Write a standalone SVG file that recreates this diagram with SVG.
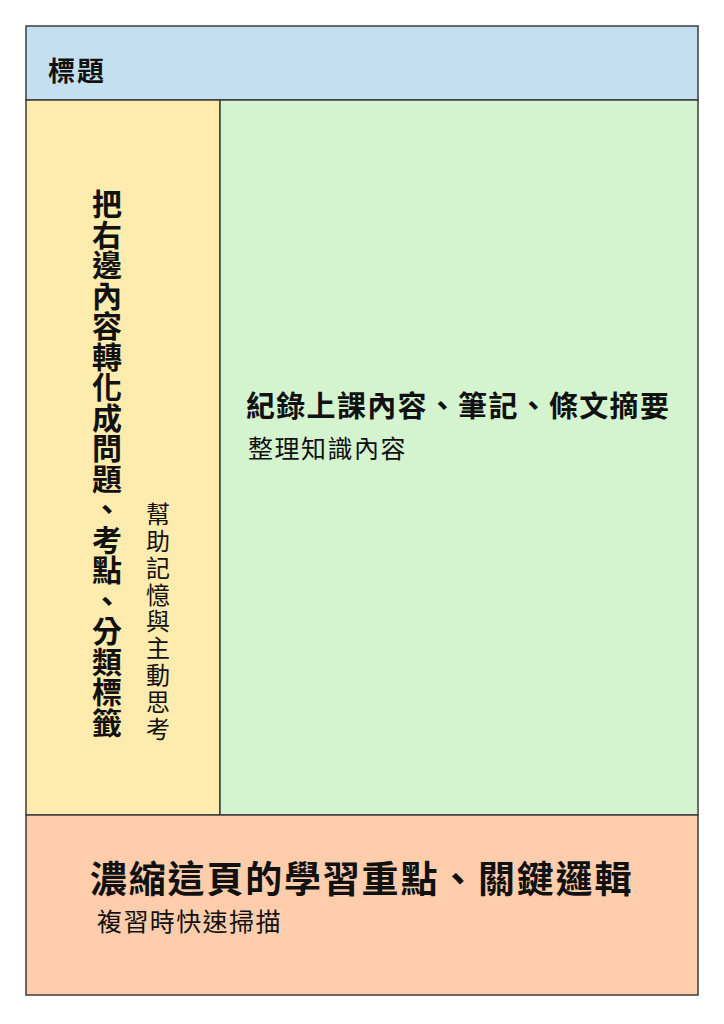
<svg xmlns="http://www.w3.org/2000/svg" width="724" height="1024" viewBox="0 0 724 1024">
<style>
.box{stroke:#3c3c3c;stroke-width:1.5}
.t{font-family:"Noto Sans CJK TC","Noto Sans CJK SC",sans-serif;fill:#111}
.b{font-weight:bold}
</style>
<rect width="724" height="1024" fill="#ffffff"/>
<g id="title">
<rect class="box" x="26" y="26" width="672" height="74" fill="#c4e0f0"/>
<text class="t b" x="48" y="81" font-size="27" letter-spacing="2">標題</text>
</g>
<g id="cue">
<rect class="box" x="26" y="100" width="194" height="715" fill="#feebae"/>
<text class="t b" x="107" y="189" font-size="30" letter-spacing="0.5" style="writing-mode:vertical-rl">把右邊內容轉化成問題、考點、分類標籤</text>
<text class="t" x="158" y="502" font-size="24" letter-spacing="2.8" style="writing-mode:vertical-rl">幫助記憶與主動思考</text>
</g>
<g id="notes">
<rect class="box" x="220" y="100" width="478" height="715" fill="#d4f4d0"/>
<text class="t b" x="246" y="417" font-size="29" letter-spacing="1.3">紀錄上課內容、筆記、條文摘要</text>
<text class="t" x="248" y="458" font-size="25" letter-spacing="1.5">整理知識內容</text>
</g>
<g id="summary">
<rect class="box" x="26" y="815" width="672" height="180" fill="#fecdac"/>
<text class="t b" x="90" y="893" font-size="37" letter-spacing="1.8">濃縮這頁的學習重點、關鍵邏輯</text>
<text class="t" x="97" y="931" font-size="25" letter-spacing="1.4">複習時快速掃描</text>
</g>
<g id="connectors"></g>
</svg>
